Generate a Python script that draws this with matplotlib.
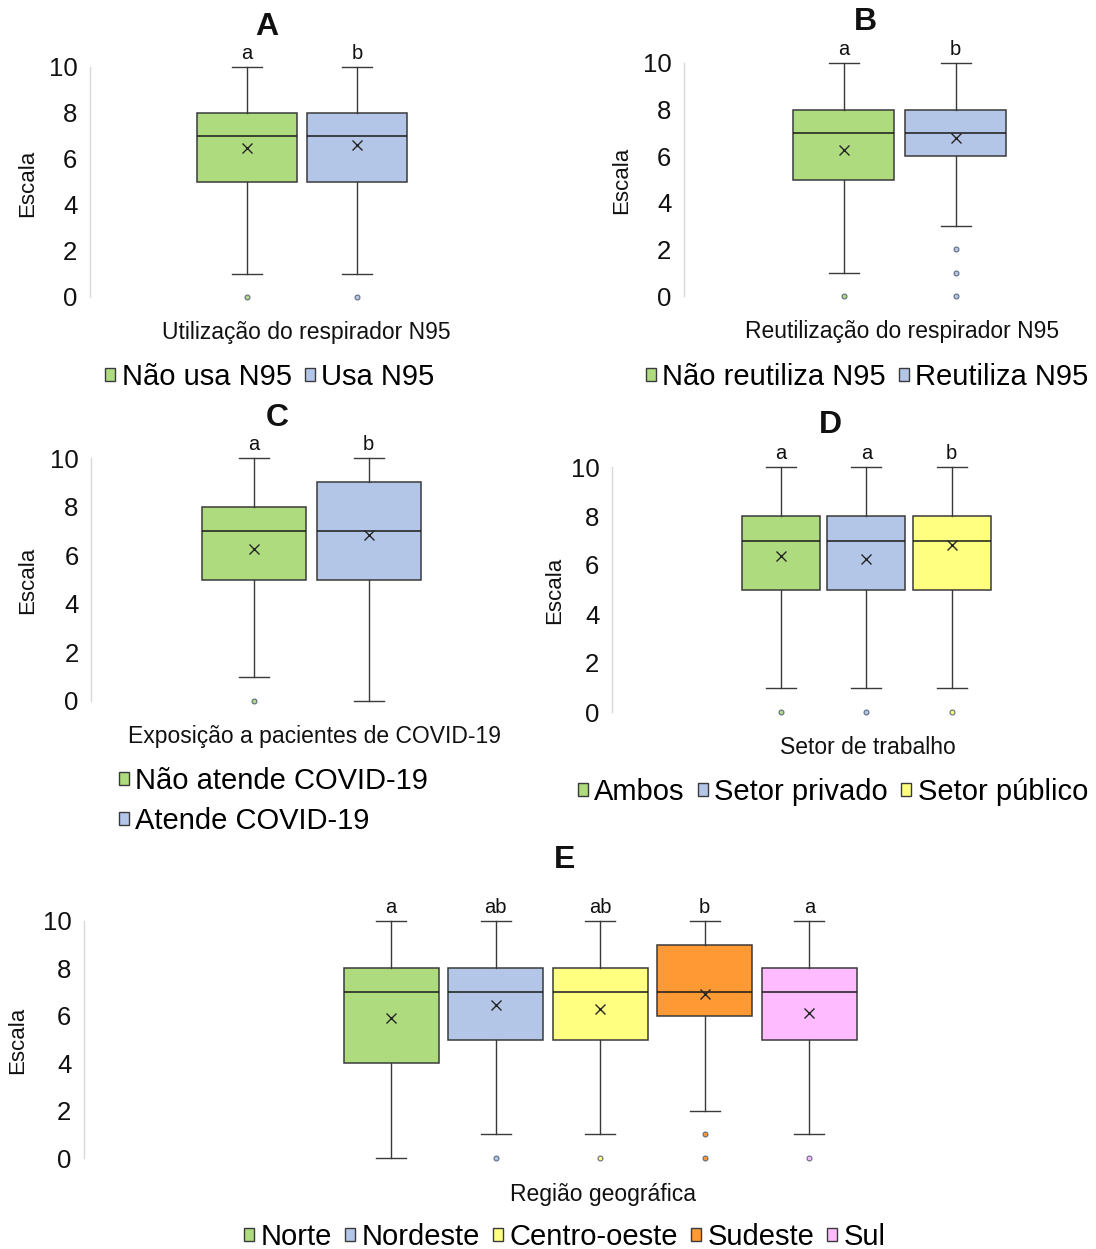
import matplotlib
matplotlib.use('Agg')
import matplotlib.pyplot as plt
from matplotlib.patches import Patch

plt.rcParams['font.family'] = ['Liberation Sans', 'DejaVu Sans']

W, H = 1096, 1249

GREEN = '#AEDB7D'
BLUE = '#B4C6E7'
YELLOW = '#FFFF80'
ORANGE = '#FF9933'
PINK = '#FFBBFF'

# ---------------- Data ----------------
# Panel A
a_labels = ['Não usa N95', 'Usa N95']
a_whislo = [1, 1]
a_q1 = [5, 5]
a_med = [7, 7]
a_q3 = [8, 8]
a_whishi = [10, 10]
a_mean = [6.5, 6.6]
a_fliers = [[0], [0]]
a_letters = ['a', 'b']

# Panel B
b_labels = ['Não reutiliza N95', 'Reutiliza N95']
b_whislo = [1, 3]
b_q1 = [5, 6]
b_med = [7, 7]
b_q3 = [8, 8]
b_whishi = [10, 10]
b_mean = [6.25, 6.8]
b_fliers = [[0], [0, 1, 2]]
b_letters = ['a', 'b']

# Panel C
c_labels = ['Não atende COVID-19', 'Atende COVID-19']
c_whislo = [1, 0]
c_q1 = [5, 5]
c_med = [7, 7]
c_q3 = [8, 9]
c_whishi = [10, 10]
c_mean = [6.25, 6.85]
c_fliers = [[0], []]
c_letters = ['a', 'b']

# Panel D
d_labels = ['Ambos', 'Setor privado', 'Setor público']
d_whislo = [1, 1, 1]
d_q1 = [5, 5, 5]
d_med = [7, 7, 7]
d_q3 = [8, 8, 8]
d_whishi = [10, 10, 10]
d_mean = [6.35, 6.25, 6.8]
d_fliers = [[0], [0], [0]]
d_letters = ['a', 'a', 'b']

# Panel E
e_labels = ['Norte', 'Nordeste', 'Centro-oeste', 'Sudeste', 'Sul']
e_whislo = [0, 1, 1, 2, 1]
e_q1 = [4, 5, 5, 6, 5]
e_med = [7, 7, 7, 7, 7]
e_q3 = [8, 8, 8, 9, 8]
e_whishi = [10, 10, 10, 10, 10]
e_mean = [5.9, 6.45, 6.3, 6.9, 6.1]
e_fliers = [[], [0], [0], [0, 1], [0]]
e_letters = ['a', 'ab', 'ab', 'b', 'a']


def make_stats(labels, whislo, q1, med, q3, whishi, mean, fliers):
    return [dict(label=l, whislo=wl, q1=a, med=m, q3=b, whishi=wh, mean=mn, fliers=f)
            for l, wl, a, m, b, wh, mn, f in zip(labels, whislo, q1, med, q3, whishi, mean, fliers)]


fig = plt.figure(figsize=(W / 100, H / 100), dpi=100)


def fx(x):
    return x / W


def fy(y):
    return 1 - y / H


def panel(stats, colors, letters, box, first_c, spacing, bw, capw):
    l, r, t, b = box
    ax = fig.add_axes([fx(l), fy(b), (r - l) / W, (b - t) / H])
    n = len(stats)
    pos = list(range(1, n + 1))
    x0 = 1 - (first_c - l) / spacing
    x1 = x0 + (r - l) / spacing
    res = ax.bxp(stats, positions=pos, widths=bw / spacing, capwidths=[capw / spacing] * n,
                 patch_artist=True, showmeans=True, manage_ticks=False,
                 boxprops=dict(edgecolor='#3a3a3a', linewidth=1.1),
                 whiskerprops=dict(color='#3a3a3a', linewidth=1.0),
                 capprops=dict(color='#3a3a3a', linewidth=1.0),
                 medianprops=dict(color='#1a1a1a', linewidth=1.1),
                 meanprops=dict(marker='x', markeredgecolor='#262626', markersize=7,
                                markeredgewidth=1.0),
                 flierprops=dict(marker='o', markersize=3.5, markeredgecolor='#5f6b80',
                                 markeredgewidth=0.8))
    for patch, c in zip(res['boxes'], colors):
        patch.set_facecolor(c)
    for fl, c in zip(res['fliers'], colors):
        fl.set_markerfacecolor(c)
    for k in res:
        for art in res[k]:
            art.set_clip_on(False)
    ax.set_xlim(x0, x1)
    ax.set_ylim(0, 10)
    ax.set_yticks([0, 2, 4, 6, 8, 10])
    ax.set_xticks([])
    ax.tick_params(axis='y', length=0, pad=9, labelsize=18.5, labelcolor='#111111')
    for s in ['top', 'right', 'bottom']:
        ax.spines[s].set_visible(False)
    ax.spines['left'].set_color('#D9D9D9')
    ax.spines['left'].set_linewidth(1.0)
    ax.patch.set_alpha(0)
    for p, letter in zip(pos, letters):
        ax.annotate(letter, (p, 10), xytext=(0, 3), textcoords='offset points',
                    ha='center', va='bottom', fontsize=14.5, color='#111111',
                    annotation_clip=False)
    return ax


def legend(labels, colors, x, y, ncol, loc='center', labelspacing=0.3):
    handles = [Patch(facecolor=c, edgecolor='#3a3a3a', linewidth=1.0) for c in colors]
    fig.legend(handles, labels, loc=loc, bbox_to_anchor=(fx(x), fy(y)), ncol=ncol,
               frameon=False, fontsize=21, handlelength=0.34, handleheight=0.34,
               handletextpad=0.22, columnspacing=0.45, borderpad=0, borderaxespad=0,
               labelspacing=labelspacing)


def texts(title_xy, ylab_xy, xlab, xlab_xy):
    fig.text(fx(title_xy[0]), fy(title_xy[1]), title_xy[2], ha='center', va='center',
             fontsize=23, fontweight='bold', color='#111111')
    fig.text(fx(ylab_xy[0]), fy(ylab_xy[1]), 'Escala', rotation=90, ha='center',
             va='center', fontsize=16, color='#111111')
    fig.text(fx(xlab_xy[0]), fy(xlab_xy[1]), xlab, ha='center', va='center',
             fontsize=16.5, color='#111111')


# Panel A
panel(make_stats(a_labels, a_whislo, a_q1, a_med, a_q3, a_whishi, a_mean, a_fliers),
      [GREEN, BLUE], a_letters, (90, 514, 67, 297), 247, 110, 100, 30)
texts((267, 27, 'A'), (28, 183), 'Utilização do respirador N95', (306, 332))
legend(a_labels, [GREEN, BLUE], 270, 377, 2)

# Panel B
panel(make_stats(b_labels, b_whislo, b_q1, b_med, b_q3, b_whishi, b_mean, b_fliers),
      [GREEN, BLUE], b_letters, (684, 1090, 63, 296), 843.5, 112, 101, 30)
texts((865, 22, 'B'), (622, 180), 'Reutilização do respirador N95', (902, 331))
legend(b_labels, [GREEN, BLUE], 867, 377, 2)

# Panel C
panel(make_stats(c_labels, c_whislo, c_q1, c_med, c_q3, c_whishi, c_mean, c_fliers),
      [GREEN, BLUE], c_letters, (91, 520, 458, 701), 254, 114.5, 104, 30)
texts((277, 418, 'C'), (28, 580), 'Exposição a pacientes de COVID-19', (315, 736))
legend(c_labels, [GREEN, BLUE], 119, 801, 1, loc='center left', labelspacing=0.42)

# Panel D
panel(make_stats(d_labels, d_whislo, d_q1, d_med, d_q3, d_whishi, d_mean, d_fliers),
      [GREEN, BLUE, YELLOW], d_letters, (612, 1090, 467, 712), 781, 85.3, 78, 30)
texts((830, 425, 'D'), (555, 590), 'Setor de trabalho', (868, 747))
legend(d_labels, [GREEN, BLUE, YELLOW], 833, 792, 3)

# Panel E
panel(make_stats(e_labels, e_whislo, e_q1, e_med, e_q3, e_whishi, e_mean, e_fliers),
      [GREEN, BLUE, YELLOW, ORANGE, PINK], e_letters, (84, 1090, 921, 1158), 391, 104.6, 95, 30)
texts((565, 860, 'E'), (18, 1040), 'Região geográfica', (603, 1194))
legend(e_labels, [GREEN, BLUE, YELLOW, ORANGE, PINK], 565, 1237, 5)

fig.savefig('out.png', dpi=100, facecolor='white')
